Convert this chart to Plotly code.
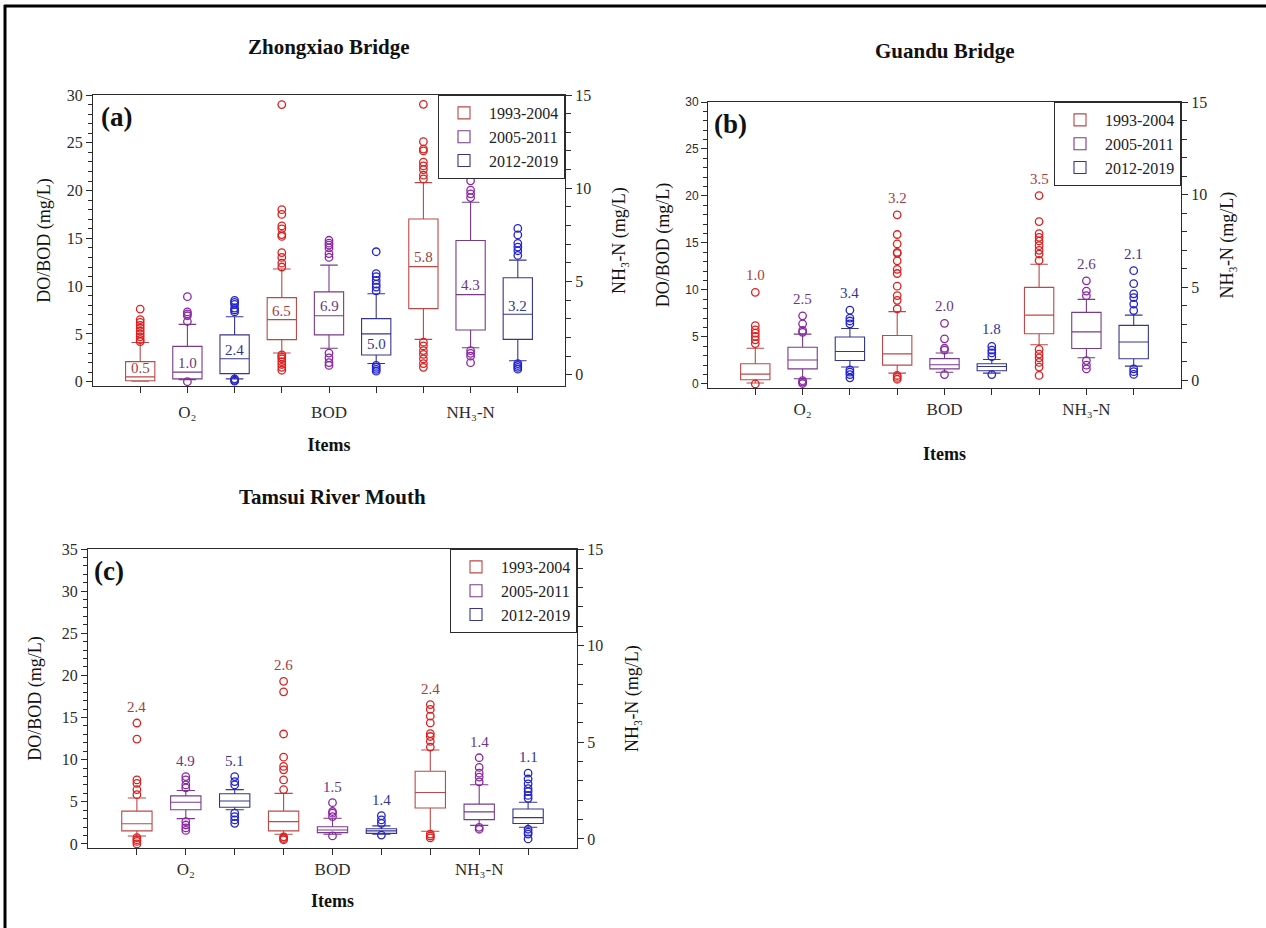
import plotly.graph_objects as go

W, H = 1266, 928
SERIF = "Liberation Serif"
SANS = "Liberation Sans"
INK = "#2b2b2b"

# ---------------- data ----------------
categories = ["O₂", "BOD", "NH₃-N"]
periods = ["1993-2004", "2005-2011", "2012-2019"]
titles = ["Zhongxiao Bridge", "Guandu Bridge", "Tamsui River Mouth"]
panel_tags = ["(a)", "(b)", "(c)"]
left_title = "DO/BOD (mg/L)"
right_title = "NH₃-N (mg/L)"
x_title = "Items"

# box order: O2 (3 periods), BOD (3 periods), NH3-N (3 periods; right axis)
# Panel (a) Zhongxiao Bridge
a_lower = [0.05, 0.2, 0.3, 3.0, 3.5, 1.9, 1.9, 1.45, 0.75]
a_q1 = [0.1, 0.3, 0.85, 4.4, 4.9, 2.8, 3.55, 2.4, 1.9]
a_median = [0.5, 1.0, 2.4, 6.5, 6.9, 5.0, 5.8, 4.3, 3.25]
a_q3 = [2.1, 3.7, 4.9, 8.8, 9.4, 6.6, 8.35, 7.2, 5.2]
a_upper = [4.1, 6.0, 6.8, 11.8, 12.2, 9.2, 10.3, 9.25, 6.15]
a_outliers = [
    [4.2, 4.4, 4.7, 5.0, 5.3, 5.6, 5.9, 6.2, 6.5, 7.6],
    [0.0, 6.3, 6.9, 7.1, 7.3, 8.9],
    [0.05, 0.15, 0.3, 7.3, 7.5, 7.7, 8.1, 8.3, 8.5],
    [1.2, 1.5, 1.8, 2.1, 2.4, 2.6, 2.8, 12.0, 12.4, 13.0, 13.5, 15.2, 15.4, 16.0, 16.3, 17.5, 18.0, 29.0],
    [1.7, 2.0, 2.5, 3.0, 13.0, 13.4, 14.0, 14.3, 14.5, 14.8],
    [1.1, 1.3, 1.5, 1.7, 9.5, 9.9, 10.2, 10.6, 11.0, 11.3, 13.6],
    [0.4, 0.6, 0.85, 1.1, 1.3, 1.55, 1.75, 10.5, 10.7, 11.0, 11.2, 11.4, 12.0, 12.1, 12.5, 14.5],
    [0.65, 1.0, 1.15, 1.3, 9.5, 9.7, 9.9, 10.4, 10.9],
    [0.3, 0.4, 0.5, 0.6, 6.4, 6.65, 6.85, 7.05, 7.5, 7.85],
]
a_labels = ["0.5", "1.0", "2.4", "6.5", "6.9", "5.0", "5.8", "4.3", "3.2"]

# Panel (b) Guandu Bridge
b_lower = [0.1, 0.55, 1.8, 1.15, 1.25, 1.15, 1.9, 1.2, 0.75]
b_q1 = [0.45, 1.6, 2.5, 2.0, 1.6, 1.4, 2.5, 1.7, 1.15]
b_median = [1.05, 2.55, 3.45, 3.2, 2.05, 1.85, 3.5, 2.6, 2.05]
b_q3 = [2.15, 3.9, 5.0, 5.15, 2.7, 2.15, 5.0, 3.65, 2.95]
b_upper = [3.8, 5.3, 5.9, 7.7, 3.3, 2.6, 6.25, 4.35, 3.5]
b_outliers = [
    [0.0, 4.3, 4.7, 5.05, 5.4, 5.75, 6.2, 9.75],
    [0.05, 0.2, 0.35, 5.5, 5.7, 6.4, 7.25],
    [0.65, 1.0, 1.25, 1.5, 6.4, 6.7, 7.0, 7.85],
    [0.5, 0.7, 0.9, 8.0, 8.9, 9.4, 10.4, 11.75, 12.2, 13.1, 13.9, 14.0, 14.9, 15.9, 18.0],
    [1.0, 3.6, 3.8, 4.8, 6.45],
    [1.0, 2.9, 3.3, 3.6, 4.0],
    [0.25, 0.7, 0.95, 1.2, 1.4, 1.65, 6.45, 6.8, 7.0, 7.25, 7.5, 7.7, 7.9, 8.55, 9.95],
    [0.6, 0.8, 1.05, 4.55, 4.8, 5.35],
    [0.3, 0.45, 0.6, 3.75, 4.1, 4.45, 4.65, 5.2, 5.9],
]
b_labels = ["1.0", "2.5", "3.4", "3.2", "2.0", "1.8", "3.5", "2.6", "2.1"]

# Panel (c) Tamsui River Mouth
c_lower = [0.95, 3.0, 4.05, 1.15, 1.15, 1.15, 0.4, 0.7, 0.6]
c_q1 = [1.55, 4.05, 4.35, 1.55, 1.35, 1.25, 1.6, 1.0, 0.8]
c_median = [2.4, 4.95, 5.1, 2.65, 1.65, 1.55, 2.4, 1.4, 1.1]
c_q3 = [3.9, 5.7, 5.95, 3.9, 2.05, 1.8, 3.5, 1.8, 1.55]
c_upper = [5.45, 6.35, 6.45, 6.0, 3.05, 2.15, 4.6, 2.8, 1.9]
c_outliers = [
    [0.0, 0.3, 0.5, 0.75, 5.85, 6.45, 7.2, 7.6, 12.45, 14.35],
    [1.6, 1.9, 2.25, 2.65, 6.65, 7.0, 7.6, 8.0],
    [2.45, 2.85, 3.25, 3.65, 7.0, 7.4, 8.0],
    [0.5, 0.65, 0.85, 6.45, 7.6, 8.8, 9.2, 10.3, 13.05, 18.05, 19.3],
    [0.95, 3.25, 3.65, 3.85, 4.9],
    [1.05, 2.45, 2.85, 3.35],
    [0.05, 0.15, 0.25, 4.75, 5.05, 5.3, 5.45, 6.0, 6.35, 6.7, 6.95],
    [0.5, 0.6, 2.95, 3.2, 3.4, 3.7, 4.2],
    [0.0, 0.25, 0.35, 0.5, 2.1, 2.25, 2.45, 2.6, 2.85, 3.1, 3.4],
]
c_labels = ["2.4", "4.9", "5.1", "2.6", "1.5", "1.4", "2.4", "1.4", "1.1"]

# ---------------- styles ----------------
box_colors = ["#bd4848", "#7a3a8c", "#36368f"]
point_colors = ["#dd1f1f", "#8c26a6", "#2323cf"]
label_colors = ["#a83c3c", "#6e3586", "#35358f"]

panels = [
    dict(stats=(a_lower, a_q1, a_median, a_q3, a_upper), out=a_outliers, labels=a_labels,
         x=(93, 565), y=(95, 386), yl=(-0.45, 30), yr=(-0.6, 15), inside=True,
         shifts=[9, 9, 9, 9, 10, -10, 10, 10, 8], left_font=SERIF, left_size=16,
         title_y=47, tick_off=5, items_off=16, left_off=11, right_off=22, tag_xy=(99, 100)),
    dict(stats=(b_lower, b_q1, b_median, b_q3, b_upper), out=b_outliers, labels=b_labels,
         x=(708, 1181), y=(102, 388), yl=(-0.43, 30), yr=(-0.43, 15), inside=False,
         shifts=[17] * 9, left_font=SANS, left_size=12,
         title_y=51, tick_off=0, items_off=28, left_off=10, right_off=14, tag_xy=(712, 107)),
    dict(stats=(c_lower, c_q1, c_median, c_q3, c_upper), out=c_outliers, labels=c_labels,
         x=(88, 577), y=(549, 848), yl=(-0.48, 35), yr=(-0.47, 15), inside=False,
         shifts=[16] * 9, left_font=SERIF, left_size=16,
         title_y=497, tick_off=0, items_off=15, left_off=15, right_off=23, tag_xy=(92, 554)),
]

fig = go.Figure()
annotations = []
layout_axes = {}

for k, p in enumerate(panels):
    xa = "x" if k == 0 else f"x{k + 1}"
    xo = f"x{k + 4}"  # overlay x axis carrying the unlabeled per-box ticks
    yl = "y" if k == 0 else f"y{2 * k + 1}"
    yr = f"y{2 * k + 2}"
    leg = "legend" if k == 0 else f"legend{k + 1}"
    lower, q1, med, q3, upper = p["stats"]
    for i in range(9):
        cat, per = divmod(i, 3)
        ya = yr if cat == 2 else yl
        fig.add_trace(go.Box(
            x=[i + 1], q1=[q1[i]], median=[med[i]], q3=[q3[i]],
            lowerfence=[lower[i]], upperfence=[upper[i]],
            xaxis=xa, yaxis=ya, width=0.62, whiskerwidth=0.6,
            line=dict(color=box_colors[per], width=1.1), fillcolor="rgba(255,255,255,0)",
            boxpoints=False, name=periods[per], legend=leg,
            legendgroup=f"{k}-{per}", showlegend=(cat == 0), hoverinfo="skip",
        ))
        pts = p["out"][i]
        fig.add_trace(go.Scatter(
            x=[i + 1] * len(pts), y=pts, mode="markers", xaxis=xa, yaxis=ya,
            marker=dict(symbol="circle-open", size=7.5, color=point_colors[per],
                        line=dict(width=1.3, color=point_colors[per])),
            showlegend=False, legend=leg, legendgroup=f"{k}-{per}", hoverinfo="skip",
        ))
        if p["inside"]:
            ly = med[i]
        else:
            ly = max(pts + [upper[i]])
        annotations.append(dict(
            x=i + 1, y=ly, xref=xa, yref=ya, text=p["labels"][i], showarrow=False,
            yshift=p["shifts"][i], font=dict(family=SERIF, size=15, color=label_colors[per]),
        ))
    # empty trace so the overlay tick axis is registered
    fig.add_trace(go.Scatter(x=[None], y=[None], xaxis=xo, yaxis=yl, mode="markers",
                             showlegend=False, hoverinfo="skip"))

    xd = [p["x"][0] / W, p["x"][1] / W]
    yd = [1 - p["y"][1] / H, 1 - p["y"][0] / H]
    xkey = "xaxis" if k == 0 else f"xaxis{k + 1}"
    xokey = f"xaxis{k + 4}"
    ylkey = "yaxis" if k == 0 else f"yaxis{2 * k + 1}"
    yrkey = f"yaxis{2 * k + 2}"
    major_pos = [3 * c + 2 for c in range(len(categories))]
    minor_pos = [v for v in range(1, 10) if v not in major_pos]
    layout_axes[xkey] = dict(
        domain=xd, anchor=yl, range=[0, 10], tickmode="array", tickvals=major_pos,
        ticktext=categories, ticks="outside", ticklen=6, tickcolor=INK,
        showline=True, mirror=True, linecolor=INK,
        linewidth=1, showgrid=False, zeroline=False, automargin=False,
        ticklabelstandoff=p["tick_off"],
        tickfont=dict(family=SERIF, size=17, color=INK),
        title=dict(text=x_title, standoff=p["items_off"],
                   font=dict(family=SERIF, size=18, color="#111", weight="bold")),
    )
    layout_axes[xokey] = dict(
        overlaying=xa, anchor=yl, side="bottom", range=[0, 10], tickmode="array",
        tickvals=minor_pos, ticks="outside", ticklen=6, tickcolor=INK, showticklabels=False,
        showline=False, showgrid=False, zeroline=False, automargin=False,
    )
    layout_axes[ylkey] = dict(
        domain=yd, anchor=xa, range=list(p["yl"]), tick0=0, dtick=5, ticks="outside", ticklen=6,
        tickcolor=INK, minor=dict(dtick=1, ticks="outside", ticklen=4, tickcolor=INK),
        showline=True, linecolor=INK, linewidth=1, showgrid=False, zeroline=False, automargin=False,
        tickfont=dict(family=p["left_font"], size=p["left_size"], color=INK),
        title=dict(text=left_title, standoff=p["left_off"],
                   font=dict(family=SERIF, size=18, color="#111")),
    )
    layout_axes[yrkey] = dict(
        overlaying=yl, side="right", anchor=xa, range=list(p["yr"]), tick0=0, dtick=5,
        ticks="outside", ticklen=6, tickcolor=INK,
        minor=dict(dtick=1, ticks="outside", ticklen=5, tickcolor=INK),
        showline=True, linecolor=INK, linewidth=1, showgrid=False, zeroline=False, automargin=False,
        tickfont=dict(family=SERIF, size=16, color=INK),
        title=dict(text=right_title, standoff=p["right_off"],
                   font=dict(family=SERIF, size=18, color="#111")),
    )
    layout_axes[leg] = dict(
        x=p["x"][1] / W, y=1 - p["y"][0] / H, xanchor="right", yanchor="top",
        bgcolor="white", bordercolor=INK, borderwidth=1, traceorder="normal",
        font=dict(family=SERIF, size=16, color="#222"), itemwidth=40, tracegroupgap=0,
    )
    # subplot title
    annotations.append(dict(
        x=(p["x"][0] + p["x"][1]) / 2 / W, y=1 - p["title_y"] / H, xref="paper", yref="paper",
        text=titles[k], showarrow=False, xanchor="center", yanchor="middle",
        font=dict(family=SERIF, size=21, color="#111", weight="bold"),
    ))
    # panel tag
    annotations.append(dict(
        x=p["tag_xy"][0] / W, y=1 - p["tag_xy"][1] / H, xref="paper", yref="paper",
        text=panel_tags[k], showarrow=False, xanchor="left", yanchor="top",
        font=dict(family=SERIF, size=27, color="#111", weight="bold"),
    ))

shapes = [
    dict(type="line", xref="paper", yref="paper", x0=4 / W, x1=1, y0=1 - 6 / H, y1=1 - 6 / H,
         line=dict(color="black", width=3)),
    dict(type="line", xref="paper", yref="paper", x0=5 / W, x1=5 / W, y0=0, y1=1 - 5 / H,
         line=dict(color="black", width=3)),
]

fig.update_layout(
    width=W, height=H, margin=dict(l=0, r=0, t=0, b=0), template="none",
    paper_bgcolor="white", plot_bgcolor="rgba(0,0,0,0)", boxmode="overlay",
    annotations=annotations, shapes=shapes, **layout_axes,
)

fig.write_html(
    "out.html",
    config={"displayModeBar": False},
    post_script="document.body.style.margin='0';document.body.style.overflow='hidden';",
)
